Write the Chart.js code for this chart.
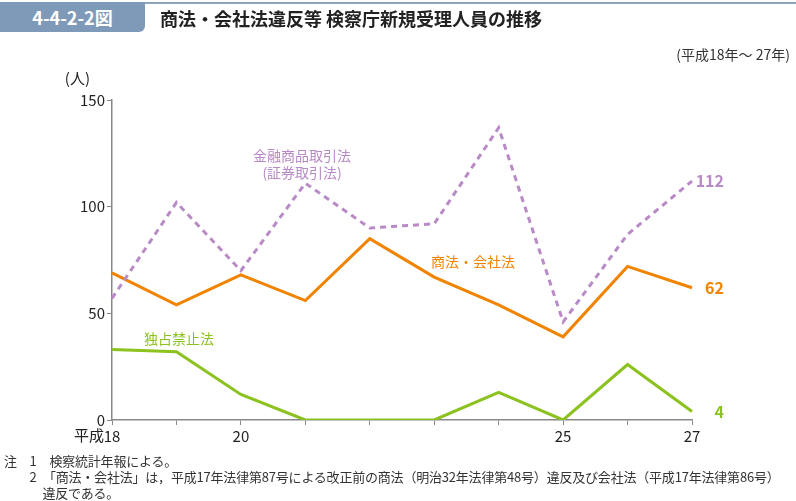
<!DOCTYPE html>
<html>
<head>
<meta charset="utf-8">
<script src="https://cdn.jsdelivr.net/npm/chart.js@4"></script>
<style>
  body { margin: 0; background: #fff; font-family: "Noto Sans CJK JP", sans-serif; }
  #wrap { position: relative; width: 796px; height: 501px; overflow: hidden; }
  #chart { position: absolute; left: 0; top: 0; }
  .topline { position: absolute; left: 0; top: 2px; width: 796px; height: 2px; background: #8ea5c0; }
  .badge { position: absolute; left: 0; top: 2px; width: 145px; height: 30px; background: #7f9ab8;
           border-radius: 0 0 6px 0; color: #fff; font-weight: bold; font-size: 18px; line-height: 30px; text-align: center; }
  .title { position: absolute; left: 160px; top: 4px; font-size: 18px; font-weight: bold; color: #222; line-height: 28px; }
  .period { position: absolute; right: 6px; top: 44px; font-size: 14px; color: #333; }
  .notes { position: absolute; left: 4px; top: 453px; font-size: 13px; color: #333; line-height: 16px; letter-spacing: -0.2px; }
  .notes div { white-space: nowrap; }
</style>
</head>
<body>
<div id="wrap">
  <canvas id="chart" width="796" height="501"></canvas>
  <div class="topline"></div>
  <div class="badge">4-4-2-2図</div>
  <div class="title">商法・会社法違反等 検察庁新規受理人員の推移</div>
  <div class="period">(平成18年～ 27年)</div>
  <div class="notes">
    <div>注　1　検察統計年報による。</div>
    <div>　　2　「商法・会社法」は，平成17年法律第87号による改正前の商法（明治32年法律第48号）違反及び会社法（平成17年法律第86号）</div>
    <div>　　　違反である。</div>
  </div>
</div>
<script>
const era = "平成";
const years = ["18", "19", "20", "21", "22", "23", "24", "25", "26", "27"];
const tickLabels = ["18", "", "20", "", "", "", "", "25", "", "27"];
const shoho = [69, 54, 68, 56, 85, 67, 54, 39, 72, 62];
const kinyu = [57, 102, 70, 111, 90, 92, 137, 46, 87, 112];
const dokusen = [33, 32, 12, 0, 0, 0, 13, 0, 26, 4];

const ORANGE = "#f08300";
const PURPLE = "#b88ac6";
const GREEN = "#8cc21f";
const FONT = "'Noto Sans CJK JP', sans-serif";

const labelPlugin = {
  id: "labels",
  afterDatasetsDraw(chart) {
    const ctx = chart.ctx;
    const x = chart.scales.x;
    const y = chart.scales.y;
    ctx.save();
    ctx.fillStyle = "#222";
    ctx.font = "15px " + FONT;
    ctx.textBaseline = "middle";
    // unit
    ctx.textAlign = "right";
    ctx.fillText("(人)", x.left - 22, y.top - 22);
    // era prefix before first year tick
    ctx.fillText(era, x.getPixelForValue(0) - 8, y.bottom + 15);
    // end values
    ctx.font = "bold 16px " + FONT;
    const last = years.length - 1;
    [[kinyu, PURPLE], [shoho, ORANGE], [dokusen, GREEN]].forEach(([d, c]) => {
      ctx.fillStyle = c;
      ctx.fillText(String(d[last]), x.getPixelForValue(last) + 32, y.getPixelForValue(d[last]));
    });
    // series names
    ctx.font = "14px " + FONT;
    ctx.textAlign = "center";
    ctx.fillStyle = PURPLE;
    ctx.fillText("金融商品取引法", x.getPixelForValue(2.95), y.getPixelForValue(124));
    ctx.fillText("(証券取引法)", x.getPixelForValue(2.95), y.getPixelForValue(116));
    ctx.fillStyle = ORANGE;
    ctx.fillText("商法・会社法", x.getPixelForValue(5.6), y.getPixelForValue(74));
    ctx.fillStyle = GREEN;
    ctx.fillText("独占禁止法", x.getPixelForValue(1.04), y.getPixelForValue(38));
    ctx.restore();
  }
};

new Chart(document.getElementById("chart"), {
  type: "line",
  data: {
    labels: years,
    datasets: [
      { label: "金融商品取引法", data: kinyu, borderColor: PURPLE, borderWidth: 3, borderDash: [6, 5] },
      { label: "商法・会社法", data: shoho, borderColor: ORANGE, borderWidth: 3 },
      { label: "独占禁止法", data: dokusen, borderColor: GREEN, borderWidth: 3 }
    ]
  },
  options: {
    responsive: false,
    animation: false,
    elements: { point: { radius: 0 }, line: { tension: 0, borderCapStyle: "butt" } },
    layout: { padding: { left: 0, right: 104, top: 100, bottom: 53 } },
    plugins: { legend: { display: false }, tooltip: { enabled: false } },
    scales: {
      x: {
        afterFit: s => { s.height = 28; },
        grid: { drawOnChartArea: false, tickLength: 5, color: "#888" },
        border: { color: "#888", width: 1.5 },
        ticks: {
          autoSkip: false, maxRotation: 0, padding: 2,
          color: "#222", font: { family: FONT, size: 15 },
          callback: (v, i) => tickLabels[i]
        }
      },
      y: {
        min: 0, max: 150,
        afterFit: s => { s.width = 112; },
        grid: { drawOnChartArea: false, tickLength: 5, color: "#888" },
        border: { color: "#888", width: 1.5 },
        ticks: { stepSize: 50, padding: 2, color: "#222", font: { family: FONT, size: 15 } }
      }
    }
  },
  plugins: [labelPlugin]
});
</script>
</body>
</html>
